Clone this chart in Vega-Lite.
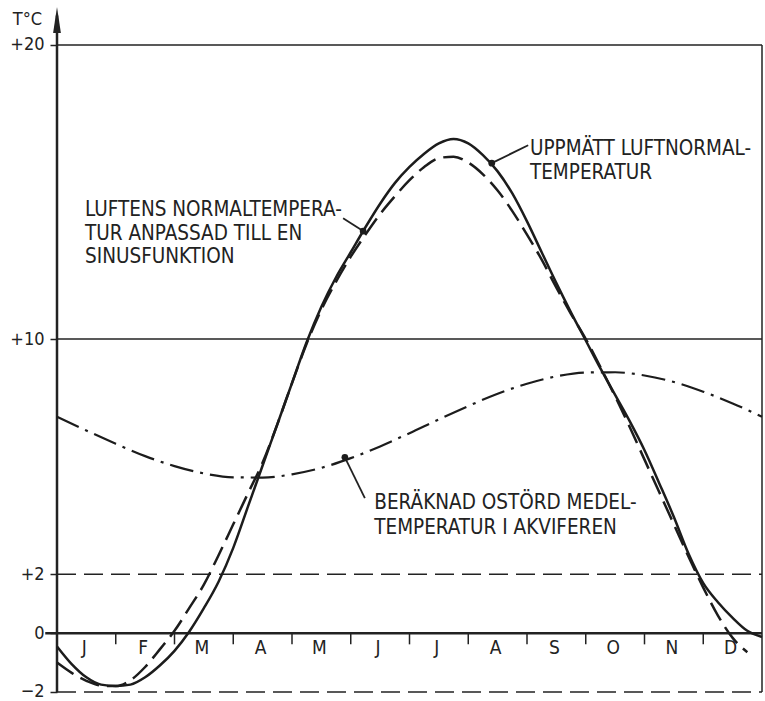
{
  "$schema": "https://vega.github.io/schema/vega-lite/v6.json",
  "width": 705,
  "height": 692,
  "autosize": "none",
  "padding": {"left": 57, "top": 4, "right": 3, "bottom": 5},
  "background": "white",
  "config": {"view": {"stroke": null}, "font": "DejaVu Sans Condensed"},
  "datasets": {
    "curves": [
      {"m": 0, "t": -0.45, "series": "measured"}, {"m": 0.25, "t": -1.05, "series": "measured"}, {"m": 0.5, "t": -1.5, "series": "measured"}, {"m": 0.75, "t": -1.75, "series": "measured"}, {"m": 1, "t": -1.8, "series": "measured"}, {"m": 1.25, "t": -1.75, "series": "measured"}, {"m": 1.5, "t": -1.5, "series": "measured"}, {"m": 1.75, "t": -1.1, "series": "measured"}, {"m": 2, "t": -0.6, "series": "measured"}, {"m": 2.25, "t": 0.05, "series": "measured"}, {"m": 2.5, "t": 0.85, "series": "measured"}, {"m": 2.75, "t": 1.75, "series": "measured"}, {"m": 3, "t": 2.9, "series": "measured"}, {"m": 3.25, "t": 4.3, "series": "measured"}, {"m": 3.5, "t": 5.7, "series": "measured"}, {"m": 3.75, "t": 7.1, "series": "measured"}, {"m": 4, "t": 8.5, "series": "measured"}, {"m": 4.25, "t": 9.9, "series": "measured"}, {"m": 4.5, "t": 11.1, "series": "measured"}, {"m": 4.75, "t": 12.1, "series": "measured"}, {"m": 5, "t": 12.95, "series": "measured"}, {"m": 5.25, "t": 13.8, "series": "measured"}, {"m": 5.5, "t": 14.6, "series": "measured"}, {"m": 5.75, "t": 15.3, "series": "measured"}, {"m": 6, "t": 15.85, "series": "measured"}, {"m": 6.25, "t": 16.3, "series": "measured"}, {"m": 6.5, "t": 16.65, "series": "measured"}, {"m": 6.75, "t": 16.8, "series": "measured"}, {"m": 7, "t": 16.65, "series": "measured"}, {"m": 7.25, "t": 16.25, "series": "measured"}, {"m": 7.5, "t": 15.7, "series": "measured"}, {"m": 7.75, "t": 14.95, "series": "measured"}, {"m": 8, "t": 14.0, "series": "measured"}, {"m": 8.25, "t": 12.95, "series": "measured"}, {"m": 8.5, "t": 11.9, "series": "measured"}, {"m": 8.75, "t": 10.9, "series": "measured"}, {"m": 9, "t": 9.95, "series": "measured"}, {"m": 9.25, "t": 9.0, "series": "measured"}, {"m": 9.5, "t": 8.1, "series": "measured"}, {"m": 9.75, "t": 7.2, "series": "measured"}, {"m": 10, "t": 6.22, "series": "measured"}, {"m": 10.25, "t": 5.1, "series": "measured"}, {"m": 10.5, "t": 3.95, "series": "measured"}, {"m": 10.75, "t": 2.7, "series": "measured"}, {"m": 11, "t": 1.7, "series": "measured"}, {"m": 11.25, "t": 1.05, "series": "measured"}, {"m": 11.5, "t": 0.52, "series": "measured"}, {"m": 11.75, "t": 0.08, "series": "measured"}, {"m": 12, "t": -0.13, "series": "measured"},
      {"m": 0, "t": -1.0, "series": "sine"}, {"m": 0.25, "t": -1.35, "series": "sine"}, {"m": 0.5, "t": -1.62, "series": "sine"}, {"m": 0.75, "t": -1.78, "series": "sine"}, {"m": 1, "t": -1.8, "series": "sine"}, {"m": 1.25, "t": -1.6, "series": "sine"}, {"m": 1.5, "t": -1.15, "series": "sine"}, {"m": 1.75, "t": -0.55, "series": "sine"}, {"m": 2, "t": 0.08, "series": "sine"}, {"m": 2.25, "t": 0.85, "series": "sine"}, {"m": 2.5, "t": 1.65, "series": "sine"}, {"m": 2.75, "t": 2.65, "series": "sine"}, {"m": 3, "t": 3.7, "series": "sine"}, {"m": 3.25, "t": 4.75, "series": "sine"}, {"m": 3.5, "t": 5.8, "series": "sine"}, {"m": 3.75, "t": 7.1, "series": "sine"}, {"m": 4, "t": 8.5, "series": "sine"}, {"m": 4.25, "t": 9.85, "series": "sine"}, {"m": 4.5, "t": 11.0, "series": "sine"}, {"m": 4.75, "t": 11.95, "series": "sine"}, {"m": 5, "t": 12.8, "series": "sine"}, {"m": 5.25, "t": 13.55, "series": "sine"}, {"m": 5.5, "t": 14.25, "series": "sine"}, {"m": 5.75, "t": 14.85, "series": "sine"}, {"m": 6, "t": 15.4, "series": "sine"}, {"m": 6.25, "t": 15.85, "series": "sine"}, {"m": 6.5, "t": 16.15, "series": "sine"}, {"m": 6.75, "t": 16.2, "series": "sine"}, {"m": 7, "t": 16.0, "series": "sine"}, {"m": 7.25, "t": 15.6, "series": "sine"}, {"m": 7.5, "t": 15.05, "series": "sine"}, {"m": 7.75, "t": 14.35, "series": "sine"}, {"m": 8, "t": 13.55, "series": "sine"}, {"m": 8.25, "t": 12.7, "series": "sine"}, {"m": 8.5, "t": 11.75, "series": "sine"}, {"m": 8.75, "t": 10.85, "series": "sine"}, {"m": 9, "t": 10.0, "series": "sine"}, {"m": 9.25, "t": 9.05, "series": "sine"}, {"m": 9.5, "t": 8.05, "series": "sine"}, {"m": 9.75, "t": 7.0, "series": "sine"}, {"m": 10, "t": 5.9, "series": "sine"}, {"m": 10.25, "t": 4.8, "series": "sine"}, {"m": 10.5, "t": 3.7, "series": "sine"}, {"m": 10.75, "t": 2.6, "series": "sine"}, {"m": 11, "t": 1.55, "series": "sine"}, {"m": 11.25, "t": 0.6, "series": "sine"}, {"m": 11.5, "t": -0.16, "series": "sine"}, {"m": 11.75, "t": -0.65, "series": "sine"},
      {"m": 0, "t": 7.36, "series": "aquifer"}, {"m": 0.5, "t": 6.89, "series": "aquifer"}, {"m": 1, "t": 6.44, "series": "aquifer"}, {"m": 1.5, "t": 6.02, "series": "aquifer"}, {"m": 2, "t": 5.68, "series": "aquifer"}, {"m": 2.5, "t": 5.43, "series": "aquifer"}, {"m": 3, "t": 5.3, "series": "aquifer"}, {"m": 3.5, "t": 5.29, "series": "aquifer"}, {"m": 4, "t": 5.4, "series": "aquifer"}, {"m": 4.5, "t": 5.62, "series": "aquifer"}, {"m": 5, "t": 5.95, "series": "aquifer"}, {"m": 5.5, "t": 6.35, "series": "aquifer"}, {"m": 6, "t": 6.8, "series": "aquifer"}, {"m": 6.5, "t": 7.27, "series": "aquifer"}, {"m": 7, "t": 7.72, "series": "aquifer"}, {"m": 7.5, "t": 8.14, "series": "aquifer"}, {"m": 8, "t": 8.48, "series": "aquifer"}, {"m": 8.5, "t": 8.73, "series": "aquifer"}, {"m": 9, "t": 8.86, "series": "aquifer"}, {"m": 9.5, "t": 8.87, "series": "aquifer"}, {"m": 10, "t": 8.76, "series": "aquifer"}, {"m": 10.5, "t": 8.54, "series": "aquifer"}, {"m": 11, "t": 8.21, "series": "aquifer"}, {"m": 11.5, "t": 7.81, "series": "aquifer"}, {"m": 12, "t": 7.36, "series": "aquifer"}
    ],
    "months": [
      {"m": 0.5, "name": "J"}, {"m": 1.5, "name": "F"}, {"m": 2.5, "name": "M"}, {"m": 3.5, "name": "A"}, {"m": 4.5, "name": "M"}, {"m": 5.5, "name": "J"}, {"m": 6.5, "name": "J"}, {"m": 7.5, "name": "A"}, {"m": 8.5, "name": "S"}, {"m": 9.5, "name": "O"}, {"m": 10.5, "name": "N"}, {"m": 11.5, "name": "D"}
    ],
    "ticks": [{"m": 1}, {"m": 2}, {"m": 3}, {"m": 4}, {"m": 5}, {"m": 6}, {"m": 7}, {"m": 8}, {"m": 9}, {"m": 10}, {"m": 11}],
    "leaders": [
      {"m": 4.87, "t": 14.11, "m2": 5.21, "t2": 13.67},
      {"m": 8.02, "t": 16.59, "m2": 7.40, "t2": 15.98},
      {"m": 4.90, "t": 5.98, "m2": 5.24, "t2": 4.59}
    ],
    "dots": [{"m": 5.21, "t": 13.67}, {"m": 7.40, "t": 15.98}, {"m": 4.90, "t": 5.98}],
    "labels": [
      {"m": 0.477, "t": 14.38, "text": "LUFTENS NORMALTEMPERA-"},
      {"m": 0.477, "t": 13.57, "text": "TUR ANPASSAD TILL EN"},
      {"m": 0.477, "t": 12.78, "text": "SINUSFUNKTION"},
      {"m": 8.05, "t": 16.45, "text": "UPPMÄTT LUFTNORMAL-"},
      {"m": 8.05, "t": 15.64, "text": "TEMPERATUR"},
      {"m": 5.40, "t": 4.42, "text": "BERÄKNAD OSTÖRD MEDEL-"},
      {"m": 5.40, "t": 3.57, "text": "TEMPERATUR I AKVIFEREN"}
    ]
  },
  "layer": [
    {
      "data": {"values": [{"t": 20}, {"t": 10}]},
      "mark": {"type": "rule", "color": "#222", "strokeWidth": 1.5},
      "encoding": {
        "x": {"datum": 0, "type": "quantitative", "scale": {"domain": [0, 12], "nice": false}, "axis": null},
        "x2": {"datum": 12},
        "y": {
          "field": "t", "type": "quantitative",
          "scale": {"domain": [-2.136, 21.39], "nice": false, "zero": false},
          "axis": {
            "values": [20, 10, 2, 0, -2],
            "labelExpr": "datum.value > 0 ? '+' + datum.value : (datum.value < 0 ? '\u2212' + (-datum.value) : '0')",
            "title": "T°C", "titleAngle": 0, "titleX": -30, "titleY": 15, "titleAlign": "center", "titleBaseline": "middle",
            "titleFontSize": 18, "titleFontWeight": "normal", "titleColor": "#222", "titleFont": "DejaVu Sans Condensed",
            "domain": false, "grid": false, "ticks": true, "tickSize": 7, "tickColor": "#222", "tickWidth": 1.5,
            "labelFontSize": 18, "labelPadding": 6, "labelColor": "#222", "labelFont": "DejaVu Sans Condensed"
          }
        }
      }
    },
    {
      "data": {"values": [{"t": 2}, {"t": -2}]},
      "mark": {"type": "rule", "color": "#222", "strokeWidth": 1.5, "strokeDash": [19, 8]},
      "encoding": {
        "x": {"datum": 0, "type": "quantitative", "scale": {"domain": [0, 12], "nice": false}},
        "x2": {"datum": 12},
        "y": {"field": "t", "type": "quantitative", "scale": {"domain": [-2.136, 21.39], "nice": false, "zero": false}}
      }
    },
    {
      "data": {"values": [{"t": 0}]},
      "mark": {"type": "rule", "color": "#222", "strokeWidth": 2.5},
      "encoding": {
        "x": {"datum": -0.2, "type": "quantitative", "scale": {"domain": [0, 12], "nice": false}},
        "x2": {"datum": 12},
        "y": {"field": "t", "type": "quantitative", "scale": {"domain": [-2.136, 21.39], "nice": false, "zero": false}}
      }
    },
    {
      "data": {"values": [{"t": -2, "t2": 21}]},
      "mark": {"type": "rule", "color": "#222", "strokeWidth": 2.5},
      "encoding": {
        "x": {"datum": 0, "type": "quantitative", "scale": {"domain": [0, 12], "nice": false}},
        "y": {"field": "t", "type": "quantitative", "scale": {"domain": [-2.136, 21.39], "nice": false, "zero": false}},
        "y2": {"field": "t2"}
      }
    },
    {
      "data": {"values": [{"t": -2, "t2": 20}]},
      "mark": {"type": "rule", "color": "#222", "strokeWidth": 1.5},
      "encoding": {
        "x": {"datum": 12, "type": "quantitative", "scale": {"domain": [0, 12], "nice": false}},
        "y": {"field": "t", "type": "quantitative", "scale": {"domain": [-2.136, 21.39], "nice": false, "zero": false}},
        "y2": {"field": "t2"}
      }
    },
    {
      "data": {"values": [{"t": 20.85}]},
      "mark": {"type": "point", "shape": "M -0.3 1 L 0 -1 L 0.3 1 Z", "filled": true, "color": "#222", "opacity": 1, "size": 676},
      "encoding": {
        "x": {"datum": 0, "type": "quantitative", "scale": {"domain": [0, 12], "nice": false}},
        "y": {"field": "t", "type": "quantitative", "scale": {"domain": [-2.136, 21.39], "nice": false, "zero": false}}
      }
    },
    {
      "data": {"name": "ticks"},
      "mark": {"type": "rule", "color": "#222", "strokeWidth": 1.5},
      "encoding": {
        "x": {"field": "m", "type": "quantitative", "scale": {"domain": [0, 12], "nice": false}},
        "y": {"datum": 0, "type": "quantitative", "scale": {"domain": [-2.136, 21.39], "nice": false, "zero": false}},
        "y2": {"datum": -0.38}
      }
    },
    {
      "data": {"name": "months"},
      "mark": {"type": "text", "fontSize": 19, "color": "#222", "align": "center", "baseline": "middle", "dx": -2},
      "encoding": {
        "x": {"field": "m", "type": "quantitative", "scale": {"domain": [0, 12], "nice": false}},
        "y": {"datum": -0.5, "type": "quantitative", "scale": {"domain": [-2.136, 21.39], "nice": false, "zero": false}},
        "text": {"field": "name"}
      }
    },
    {
      "data": {"name": "curves"},
      "transform": [{"filter": "datum.series === 'measured'"}],
      "mark": {"type": "line", "color": "#1c1c1c", "strokeWidth": 2.5, "interpolate": "monotone"},
      "encoding": {
        "x": {"field": "m", "type": "quantitative", "scale": {"domain": [0, 12], "nice": false}},
        "y": {"field": "t", "type": "quantitative", "scale": {"domain": [-2.136, 21.39], "nice": false, "zero": false}}
      }
    },
    {
      "data": {"name": "curves"},
      "transform": [{"filter": "datum.series === 'sine'"}],
      "mark": {"type": "line", "color": "#1c1c1c", "strokeWidth": 2.5, "strokeDash": [20, 8], "interpolate": "monotone"},
      "encoding": {
        "x": {"field": "m", "type": "quantitative", "scale": {"domain": [0, 12], "nice": false}},
        "y": {"field": "t", "type": "quantitative", "scale": {"domain": [-2.136, 21.39], "nice": false, "zero": false}}
      }
    },
    {
      "data": {"name": "curves"},
      "transform": [{"filter": "datum.series === 'aquifer'"}],
      "mark": {"type": "line", "color": "#1c1c1c", "strokeWidth": 2.2, "strokeDash": [24, 7, 3, 7], "interpolate": "monotone"},
      "encoding": {
        "x": {"field": "m", "type": "quantitative", "scale": {"domain": [0, 12], "nice": false}},
        "y": {"field": "t", "type": "quantitative", "scale": {"domain": [-2.136, 21.39], "nice": false, "zero": false}}
      }
    },
    {
      "data": {"name": "leaders"},
      "mark": {"type": "rule", "color": "#222", "strokeWidth": 1.8},
      "encoding": {
        "x": {"field": "m", "type": "quantitative", "scale": {"domain": [0, 12], "nice": false}},
        "y": {"field": "t", "type": "quantitative", "scale": {"domain": [-2.136, 21.39], "nice": false, "zero": false}},
        "x2": {"field": "m2"},
        "y2": {"field": "t2"}
      }
    },
    {
      "data": {"name": "dots"},
      "mark": {"type": "point", "shape": "circle", "filled": true, "color": "#1c1c1c", "opacity": 1, "size": 45},
      "encoding": {
        "x": {"field": "m", "type": "quantitative", "scale": {"domain": [0, 12], "nice": false}},
        "y": {"field": "t", "type": "quantitative", "scale": {"domain": [-2.136, 21.39], "nice": false, "zero": false}}
      }
    },
    {
      "data": {"name": "labels"},
      "mark": {"type": "text", "fontSize": 20.5, "color": "#222", "align": "left", "baseline": "middle"},
      "encoding": {
        "x": {"field": "m", "type": "quantitative", "scale": {"domain": [0, 12], "nice": false}},
        "y": {"field": "t", "type": "quantitative", "scale": {"domain": [-2.136, 21.39], "nice": false, "zero": false}},
        "text": {"field": "text"}
      }
    }
  ]
}
